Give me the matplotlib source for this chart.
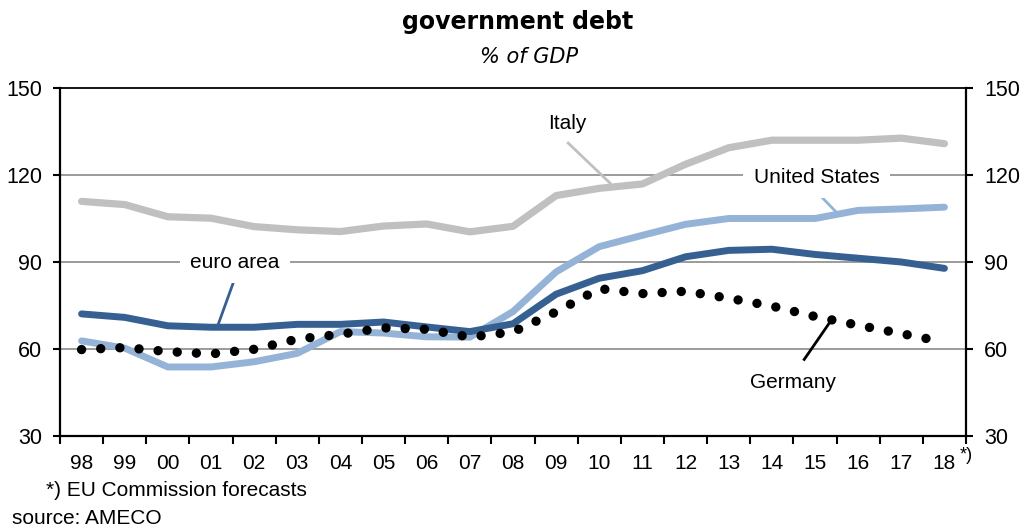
import matplotlib
matplotlib.use("Agg")
import matplotlib.pyplot as plt
import numpy as np

years = ["98", "99", "00", "01", "02", "03", "04", "05", "06", "07", "08",
         "09", "10", "11", "12", "13", "14", "15", "16", "17", "18"]
italy = [110.8, 109.7, 105.5, 105.0, 102.1, 101.0, 100.4, 102.3, 103.0, 100.3,
         102.2, 112.8, 115.3, 116.8, 123.6, 129.3, 131.9, 131.9, 131.9, 132.6, 130.7]
united_states = [62.7, 60.2, 53.7, 53.7, 55.5, 58.4, 65.9, 65.4, 64.1, 64.0,
                 72.8, 86.5, 95.2, 99.1, 102.9, 104.9, 104.9, 104.9, 107.7, 108.2, 108.8]
euro_area = [72.0, 70.8, 67.9, 67.4, 67.4, 68.4, 68.4, 69.2, 67.5, 65.9,
             68.6, 78.8, 84.3, 86.9, 91.7, 93.9, 94.3, 92.5, 91.2, 89.9, 87.7]
germany = [59.7, 60.4, 59.0, 58.2, 59.8, 63.3, 65.0, 67.2, 66.7, 64.0,
           65.8, 72.7, 80.7, 79.0, 79.8, 77.4, 74.7, 71.1, 68.1, 65.2, 62.3]

col_italy = "#C0C0C0"
col_us = "#95B3D7"
col_euro = "#376092"

fig = plt.figure(figsize=(10.36, 5.31), dpi=100)
ax = fig.add_axes([60/1036, (531-435.7)/531, 906/1036, 348/531])

x = np.arange(len(years))
ax.plot(x, italy, color=col_italy, lw=5.2, solid_capstyle="round", zorder=3)
ax.plot(x, united_states, color=col_us, lw=5.0, solid_capstyle="round", zorder=4)
ax.plot(x, euro_area, color=col_euro, lw=5.0, solid_capstyle="round", zorder=5)
ax.plot(x, germany, color="black", lw=6.8, linestyle=(0, (0.001, 2.03)),
        dash_capstyle="round", zorder=6)

ax.set_xlim(-0.5, len(years) - 0.5)
ax.set_ylim(30, 150)

for yv in [60, 90, 120]:
    ax.axhline(yv, color="#808080", lw=1.1, zorder=1)

xtick_font = dict(family="Liberation Sans", size=15)
ytick_font = dict(family="Liberation Sans", size=15.5)
ax.set_xticks(np.arange(-0.5, len(years)), minor=False)
ax.set_xticklabels([])
ax.set_xticks(x, minor=True)
ax.set_xticklabels(years, minor=True, fontdict=xtick_font)
ax.tick_params(axis="x", which="major", direction="out", length=6, width=1.5)
ax.tick_params(axis="x", which="minor", length=0, pad=13)

ax.set_yticks([30, 60, 90, 120, 150])
ax.set_yticklabels(["30", "60", "90", "120", "150"], fontdict=ytick_font)
ax.tick_params(axis="y", which="major", direction="out", length=5, width=1.5,
               left=True, right=True, labelleft=True, labelright=True, pad=8)

for s in ["left", "right", "bottom"]:
    ax.spines[s].set_linewidth(1.6)
ax.spines["top"].set_linewidth(1.3)

lab_font = dict(family="Liberation Sans", size=15)
box = dict(boxstyle="square,pad=0.5", fc="white", ec="none")

ax.text(11.25, 137.8, "Italy", ha="center", va="center", **lab_font, zorder=7)
ax.plot([11.28, 12.25], [130.9, 117.1], color=col_italy, lw=2, zorder=2)

ax.text(17.04, 118.9, "United States", ha="center", va="center", bbox=box,
        **lab_font, zorder=7)
ax.plot([17.18, 17.46], [111.9, 107.6], color=col_us, lw=2, zorder=2)

ax.text(3.56, 89.6, "euro area", ha="center", va="center", bbox=box,
        **lab_font, zorder=7)
ax.plot([3.52, 3.17], [82.9, 68.5], color=col_euro, lw=2, zorder=2)

ax.text(16.5, 48.2, "Germany", ha="center", va="center", **lab_font, zorder=7)
ax.plot([16.75, 17.39], [56.3, 70.1], color="black", lw=2, zorder=2)

fig.text(518/1036, 1 - 22/531, "government debt", ha="center", va="center",
         family="DejaVu Sans", weight="bold", size=17)
fig.text(529/1036, 1 - 57/531, "% of GDP", ha="center", va="center",
         family="DejaVu Sans", style="italic", size=15)

fig.text(960/1036, 1 - 456/531, "*)", ha="left", va="center",
         family="Liberation Sans", size=13)
fig.text(46/1036, 1 - 490/531, "*) EU Commission forecasts", ha="left", va="center",
         family="Liberation Sans", size=15)
fig.text(12/1036, 1 - 518/531, "source: AMECO", ha="left", va="center",
         family="Liberation Sans", size=15)

fig.savefig("out.png", dpi=100)
